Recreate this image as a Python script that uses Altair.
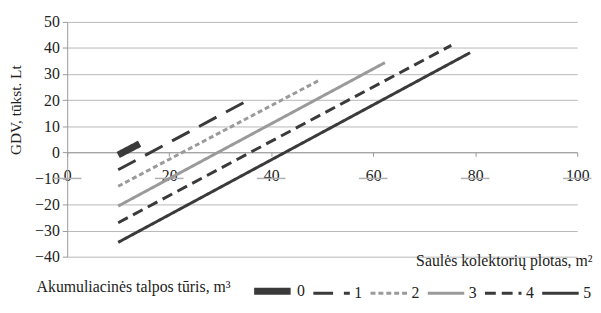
import altair as alt
import pandas as pd

# Series: accumulation tank volume (m3)
series = ["0", "1", "2", "3", "4", "5"]
x_start = [10, 10, 10, 10, 10, 10]
x_end = [14.2, 35.2, 49.3, 62.3, 75.3, 79.0]
y_start = [-1.0, -6.7, -13.0, -20.6, -27.0, -34.5]
y_end = [3.3, 19.7, 27.5, 34.4, 41.0, 38.2]

x_ticks = [0, 20, 40, 60, 80, 100]
y_ticks = [-40, -30, -20, -10, 0, 10, 20, 30, 40, 50]

colors = ["#3a3a3a", "#3a3a3a", "#9a9a9a", "#9a9a9a", "#3a3a3a", "#3a3a3a"]
dashes = [[1, 0], [20, 11], [5, 3], [1, 0], [11, 6], [1, 0]]
widths = [7, 3, 3, 3, 3, 3]

rows = []
for s, xa, xb, ya, yb in zip(series, x_start, x_end, y_start, y_end):
    rows.append({"s": s, "x": xa, "y": ya})
    rows.append({"s": s, "x": xb, "y": yb})
df = pd.DataFrame(rows)

seg = pd.DataFrame({"x": [t - 2.8 for t in x_ticks], "x2": [t + 2.8 for t in x_ticks], "y": [-10] * len(x_ticks)})

W, H = 517, 238
FONT = "Liberation Serif"

xscale = alt.Scale(domain=[0, 100], nice=False)
yscale = alt.Scale(domain=[-40, 50], nice=False)

xaxis = alt.Axis(
    values=x_ticks,
    orient="bottom",
    offset=-(H * 40 / 90),
    grid=False,
    tickSize=4,
    tickColor="#999999",
    domainColor="#999999",
    labelFont=FONT,
    labelFontSize=16,
    labelColor="#222222",
    labelPadding=12,
    labelFlush=False,
    title="Saulės kolektorių plotas, m²",
    titleFont=FONT,
    titleFontSize=16,
    titleFontWeight="normal",
    titleColor="#222222",
    titleAnchor="end",
    titleAlign="right",
    titleX=532,
    titleY=110,
    titleBaseline="middle",
)
yaxis = alt.Axis(
    values=y_ticks,
    grid=True,
    gridColor="#b8b8b8",
    gridOpacity={"condition": {"test": "datum.value === -10", "value": 0}, "value": 1},
    tickSize=5,
    tickColor="#999999",
    domainColor="#999999",
    labelFont=FONT,
    labelFontSize=16,
    labelColor="#222222",
    labelPadding=3,
    title="GDV, tūkst. Lt",
    titleFont=FONT,
    titleFontSize=15.5,
    titleFontWeight="normal",
    titleColor="#222222",
    titleX=-52,
    titleY=89,
    titleAnchor="middle",
    titleBaseline="middle",
)

segs = alt.Chart(seg).mark_rule(color="#b0b0b0", strokeWidth=1.5).encode(
    x=alt.X("x:Q", scale=xscale, axis=xaxis),
    x2="x2",
    y=alt.Y("y:Q", scale=yscale, axis=yaxis),
)

legend = alt.Legend(
    title="Akumuliacinės talpos tūris, m³",
    orient="none",
    legendX=-31,
    legendY=251,
    direction="horizontal",
    titleOrient="left",
    titlePadding=20,
    titleLimit=400,
    titleFont=FONT,
    titleFontSize=16,
    titleFontWeight="normal",
    titleColor="#222222",
    labelFont=FONT,
    labelFontSize=16,
    labelColor="#222222",
    labelOffset=3,
    symbolType="stroke",
    symbolSize=1369,
    columnPadding=2,
)

lines = alt.Chart(df).mark_line().encode(
    x=alt.X("x:Q", scale=xscale, axis=xaxis),
    y=alt.Y("y:Q", scale=yscale, axis=yaxis),
    color=alt.Color("s:N", scale=alt.Scale(domain=series, range=colors), legend=legend),
    strokeDash=alt.StrokeDash("s:N", scale=alt.Scale(domain=series, range=dashes), legend=legend),
    strokeWidth=alt.StrokeWidth(
        "s:N", scale=alt.Scale(type="ordinal", domain=series, range=widths), legend=legend
    ),
)

chart = alt.layer(segs, lines).properties(
    width=W,
    height=H,
    autosize=alt.AutoSizeParams(type="none"),
    padding={"left": 60, "top": 12, "right": 16, "bottom": 55},
).configure(font=FONT, background="white").configure_view(stroke=None)

chart.save("out.html", embed_options={"renderer": "svg", "actions": False})
